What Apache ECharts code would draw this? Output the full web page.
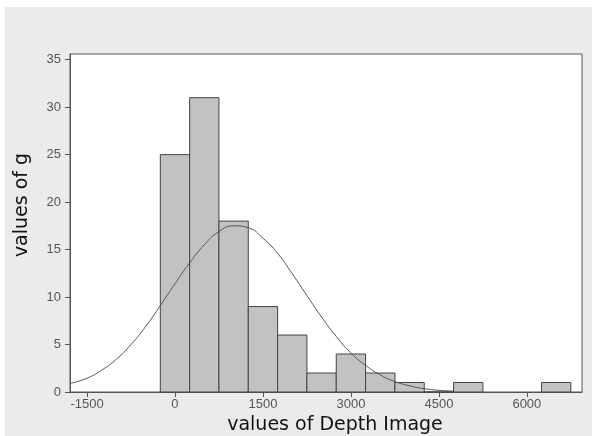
<!DOCTYPE html>
<html>
<head>
<meta charset="utf-8">
<script src="https://cdn.jsdelivr.net/npm/echarts@6/dist/echarts.min.js"></script>
<style>
  html, body { margin: 0; padding: 0; background: #fff; }
  #panel { position: absolute; left: 5px; top: 7px; width: 587px; height: 429px; background: #ebebeb; }
  #chart { position: absolute; left: 0; top: 0; width: 592px; height: 436px; }
</style>
</head>
<body>
<div id="panel"></div>
<div id="chart"></div>
<script>
  // histogram bins (lower / upper edge) and counts
  var binLow = [-250, 250, 750, 1250, 1750, 2250, 2750, 3250, 3750, 4250, 4750, 6250];
  var binHigh = [250, 750, 1250, 1750, 2250, 2750, 3250, 3750, 4250, 4750, 5250, 6750];
  var counts = [25, 31, 18, 9, 6, 2, 4, 2, 1, 0, 1, 1];

  // fitted normal curve
  var curveX = [-1790, -1500, -1250, -1000, -750, -500, -250, 0, 250, 500, 750, 1000, 1250, 1500,
    1750, 2000, 2250, 2500, 2750, 3000, 3250, 3500, 3750, 4000, 4250, 4500, 4750];
  var curveY = [0.9, 1.45, 2.3, 3.45, 5.0, 6.9, 9.1, 11.4, 13.6, 15.5, 16.9, 17.5, 17.3, 16.2,
    14.6, 12.45, 10.15, 7.9, 5.85, 4.1, 2.8, 1.8, 1.1, 0.65, 0.35, 0.18, 0.09];

  var xTicks = [-1500, 0, 1500, 3000, 4500, 6000];
  var yTicks = [0, 5, 10, 15, 20, 25, 30, 35];

  var barData = [];
  for (var i = 0; i < counts.length; i++) {
    barData.push([binLow[i], binHigh[i], counts[i]]);
  }
  var curveData = [];
  for (var j = 0; j < curveX.length; j++) {
    curveData.push([curveX[j], curveY[j]]);
  }

  var labelStyle = {
    color: '#555',
    fontFamily: 'Liberation Sans',
    fontSize: 13,
    formatter: function (v) { return String(v); }
  };

  var option = {
    animation: false,
    grid: {
      left: 70,
      right: 10,
      top: 54,
      bottom: 44,
      show: true,
      backgroundColor: '#fff',
      borderColor: '#555',
      borderWidth: 1
    },
    xAxis: {
      type: 'value',
      min: -1790,
      max: 6940,
      axisLine: { show: true, onZero: false, lineStyle: { color: '#555' } },
      splitLine: { show: false },
      axisTick: {
        show: true,
        length: 5,
        customValues: xTicks,
        lineStyle: { color: '#555' }
      },
      axisLabel: Object.assign({ customValues: xTicks, margin: 6 }, labelStyle)
    },
    yAxis: {
      type: 'value',
      min: 0,
      max: 35.6,
      axisLine: { show: true, onZero: false, lineStyle: { color: '#555' } },
      splitLine: { show: false },
      axisTick: {
        show: true,
        length: 5,
        customValues: yTicks,
        lineStyle: { color: '#555' }
      },
      axisLabel: Object.assign({ customValues: yTicks, margin: 9 }, labelStyle)
    },
    graphic: [{
      type: 'text',
      x: 22,
      y: 205,
      rotation: Math.PI / 2,
      style: {
        text: 'values of g',
        fill: '#111',
        font: '19px "DejaVu Sans"',
        align: 'center',
        verticalAlign: 'middle'
      }
    }, {
      type: 'text',
      x: 335,
      y: 425,
      style: {
        text: 'values of Depth Image',
        fill: '#111',
        font: '19px "DejaVu Sans"',
        align: 'center',
        verticalAlign: 'middle'
      }
    }],
    series: [{
      type: 'custom',
      data: barData,
      z: 2,
      renderItem: function (params, api) {
        var p0 = api.coord([api.value(0), api.value(2)]);
        var p1 = api.coord([api.value(1), 0]);
        return {
          type: 'rect',
          shape: { x: p0[0], y: p0[1], width: p1[0] - p0[0], height: p1[1] - p0[1] },
          style: { fill: '#c2c2c2', stroke: '#444', lineWidth: 1 }
        };
      }
    }, {
      type: 'line',
      data: curveData,
      smooth: true,
      showSymbol: false,
      z: 3,
      lineStyle: { color: '#555', width: 1 }
    }]
  };

  var chart = echarts.init(document.getElementById('chart'));
  chart.setOption(option);
</script>
</body>
</html>
